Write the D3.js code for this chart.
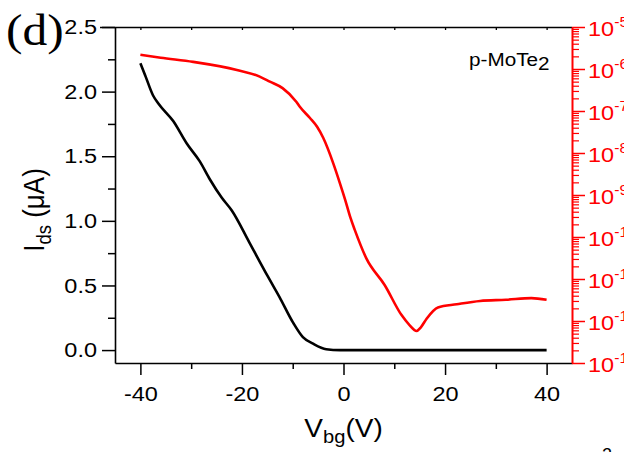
<!DOCTYPE html>
<html>
<head>
<meta charset="utf-8">
<script src="https://cdn.jsdelivr.net/npm/d3@7"></script>
<style>
  html, body { margin: 0; padding: 0; background: #fff; }
  svg { display: block; }
</style>
</head>
<body>
<svg id="chart" width="624" height="452" font-family="'Liberation Sans', Arial, sans-serif"></svg>
<script>
// Gate voltage sweep (V) and drain current on the linear scale (µA)
const linVbg = [-40, -39, -37.5, -36.5, -33.5, -30.9, -28.3, -26.3, -24, -22, -18.5, -14.9, -12.6, -9.9, -8, -6, -3.4, -0.7, 5, 10, 20, 30, 40];
const linIds = [2.22, 2.12, 1.97, 1.91, 1.77, 1.60, 1.46, 1.32, 1.18, 1.08, 0.83, 0.57, 0.41, 0.21, 0.10, 0.05, 0.007, 0.0, 0.0, 0.0, 0.0, 0.0, 0.0];

// Same sweep on the logarithmic scale (A)
const logVbg = [-40, -36, -29.6, -21, -16.5, -14.5, -12, -9.3, -8.6, -6.6, -5.2, -4, -2, -0.7, 0.3, 1.4, 2.2, 4.5, 8.1, 11.4, 13.0, 14.4, 15.2, 16.4, 18.6, 22.3, 26.9, 32, 37, 40];
const logIds = [2.19e-6, 1.86e-6, 1.48e-6, 9.5e-7, 6.6e-7, 5.0e-7, 3.5e-7, 1.66e-7, 1.26e-7, 6.8e-8, 4.2e-8, 2.3e-8, 5.6e-9, 1.9e-9, 7.9e-10, 2.8e-10, 1.5e-10, 3.1e-11, 7.2e-12, 1.4e-12, 8e-13, 5.8e-13, 7e-13, 1.15e-12, 2.1e-12, 2.5e-12, 3.0e-12, 3.2e-12, 3.5e-12, 3.2e-12];

// Tick values
const xTicks = [-40, -20, 0, 20, 40];
const xMinor = [-30, -10, 10, 30];
const xTopTicks = [-40, -30, -20, -10, 0, 10, 20, 30, 40];
const yTicks = [0, 0.5, 1.0, 1.5, 2.0, 2.5];
const yMinor = [0.25, 0.75, 1.25, 1.75, 2.25];
const rExponents = [-5, -6, -7, -8, -9, -10, -11, -12, -13];

const SX = 1.12; // horizontal stretch of the lettering
const L = 115, R = 572, T = 27, B = 363;

const svg = d3.select("#chart");

const x = d3.scaleLinear().domain([-45, 45]).range([L, R]);
const yL = d3.scaleLinear().domain([-0.1, 2.5]).range([B, T]);
const yR = d3.scaleLog().domain([1e-13, 1e-5]).range([B, T]);

function blackAxis(g, w) {
  g.selectAll("line").attr("stroke", "#000").attr("stroke-width", w);
  g.select(".domain").attr("stroke", "#000").attr("stroke-width", 1.6);
}

// Top frame line with short inward ticks
const topAxis = svg.append("g").attr("transform", `translate(0,${T})`)
  .call(d3.axisBottom(x).tickValues(xTopTicks).tickSize(3).tickSizeOuter(0).tickFormat(""));
topAxis.select(".domain").attr("d", `M100,0.5H${R}`);
blackAxis(topAxis, 1.3);

// Bottom axis
const bot = svg.append("g").attr("transform", `translate(0,${B})`)
  .call(d3.axisBottom(x).tickValues(xTicks).tickSize(12).tickSizeOuter(0).tickPadding(11).tickFormat(d => String(d)));
const botMinor = svg.append("g").attr("transform", `translate(0,${B})`)
  .call(d3.axisBottom(x).tickValues(xMinor).tickSize(6).tickSizeOuter(0).tickFormat(""));
botMinor.select(".domain").remove();
blackAxis(bot, 1.5);
blackAxis(botMinor, 1.5);
bot.selectAll("text")
  .attr("font-size", 21).attr("fill", "#000")
  .attr("transform", `scale(${SX},1)`);

// Left axis
const left = svg.append("g").attr("transform", `translate(${L},0)`)
  .call(d3.axisLeft(yL).tickValues(yTicks).tickSize(13).tickSizeOuter(0).tickPadding(5).tickFormat(d3.format(".1f")));
const leftMinor = svg.append("g").attr("transform", `translate(${L},0)`)
  .call(d3.axisLeft(yL).tickValues(yMinor).tickSize(7).tickSizeOuter(0).tickFormat(""));
leftMinor.select(".domain").remove();
blackAxis(left, 1.5);
blackAxis(leftMinor, 1.5);
left.selectAll("text")
  .attr("font-size", 21).attr("fill", "#000")
  .attr("x", -18 / SX)
  .attr("transform", `scale(${SX},1)`);

// Right logarithmic axis in red
const rMajor = rExponents.map(e => Math.pow(10, e));
const rMinorVals = [];
rExponents.slice(0, -1).forEach(e => {
  for (let k = 2; k <= 9; k++) rMinorVals.push(k * Math.pow(10, e - 1));
});
const right = svg.append("g").attr("transform", `translate(${R},0)`)
  .call(d3.axisRight(yR).tickValues(rMajor).tickSize(13).tickSizeOuter(0).tickFormat(""));
svg.append("g").attr("transform", `translate(${R},0)`)
  .call(d3.axisRight(yR).tickValues(rMinorVals).tickSize(7).tickSizeOuter(0).tickFormat(""))
  .call(g => g.select(".domain").remove())
  .call(g => g.selectAll("line").attr("stroke", "#ff0000").attr("stroke-width", 1.2));
right.selectAll("line").attr("stroke", "#ff0000").attr("stroke-width", 1.5);
right.select(".domain").attr("stroke", "#ff0000").attr("stroke-width", 2);
right.selectAll(".tick").each(function (d) {
  const e = Math.round(Math.log10(d));
  const t = d3.select(this).append("text")
    .attr("fill", "#ff0000").attr("font-size", 21)
    .attr("text-anchor", "start")
    .attr("transform", `translate(16,8) scale(${SX},1)`);
  t.append("tspan").text("10");
  t.append("tspan").attr("font-size", 14).attr("dy", -9).text(String(e));
});

// Curves
const lineLin = d3.line().x((d, i) => x(linVbg[i])).y(d => yL(d)).curve(d3.curveMonotoneX);
const lineLog = d3.line().x((d, i) => x(logVbg[i])).y(d => yR(d)).curve(d3.curveMonotoneX);

svg.append("path").datum(logIds).attr("d", lineLog)
  .attr("fill", "none").attr("stroke", "#ff0000").attr("stroke-width", 2.6).attr("stroke-linejoin", "round");
svg.append("path").datum(linIds).attr("d", lineLin)
  .attr("fill", "none").attr("stroke", "#000").attr("stroke-width", 2.6).attr("stroke-linejoin", "round");

// Panel letter
svg.append("text")
  .attr("font-family", "'Liberation Serif', 'Times New Roman', serif")
  .attr("font-size", 45).attr("fill", "#000")
  .attr("transform", "translate(6,45) scale(1.1,1)")
  .text("(d)");

// Sample label
const lab = svg.append("text").attr("font-size", 18.5).attr("fill", "#000")
  .attr("transform", `translate(469,66) scale(${SX},1)`);
lab.append("tspan").text("p-MoTe");
lab.append("tspan").attr("dy", 4).text("2");

// Axis titles
const xt = svg.append("text").attr("font-size", 25).attr("fill", "#000")
  .attr("text-anchor", "middle")
  .attr("transform", `translate(${(L + R) / 2},437) scale(${SX},1)`);
xt.append("tspan").text("V");
xt.append("tspan").attr("font-size", 18).attr("dy", 6).text("bg");
xt.append("tspan").attr("dy", -6).text("(V)");

const yt = svg.append("text").attr("font-size", 26).attr("fill", "#000")
  .attr("text-anchor", "middle")
  .attr("transform", `translate(44,210) rotate(-90) scale(1,${SX})`);
yt.append("tspan").text("I");
yt.append("tspan").attr("font-size", 18.5).attr("dy", 6).text("ds");
yt.append("tspan").attr("dy", -6).text(" (\u03bcA)");

// Superscript fragment from the caption below
svg.append("text").attr("x", 602).attr("y", 461).attr("font-size", 18).attr("fill", "#000").text("2");
</script>
</body>
</html>
